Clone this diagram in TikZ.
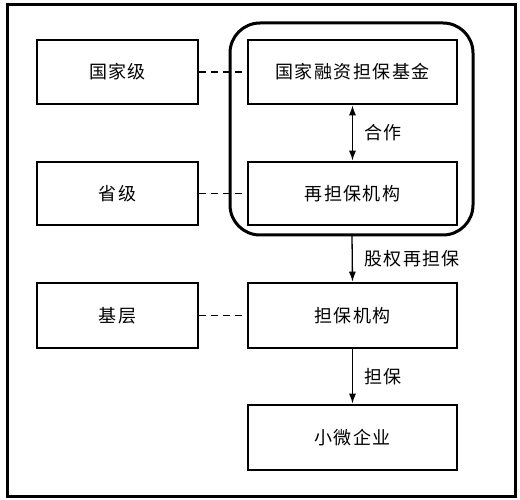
\documentclass[tikz,border=0pt]{standalone}
\usepackage{fontspec}
\newfontfamily\cjk[LetterSpace=8]{Noto Sans CJK SC}
\usetikzlibrary{arrows.meta}
\begin{document}
\begin{tikzpicture}[x=1pt,y=-1pt,
  box/.style={draw, line width=2.6pt, rectangle, inner sep=0pt},
  lbl/.style={font=\cjk\fontsize{18}{20}\selectfont},
  dashline/.style={dashed, line width=1.8pt, dash pattern=on 7pt off 5pt},
  arr/.style={line width=1.3pt, -{Latex[length=10pt,width=7pt]}},
  darr/.style={line width=1.3pt, {Latex[length=10pt,width=7pt]}-{Latex[length=10pt,width=7pt]}}]
\useasboundingbox (0,0) rectangle (520,500);
\draw[line width=3pt] (7,5) rectangle (515,496);
% rounded group
\draw[line width=3pt, rounded corners=30pt] (230,23) rectangle (473,235);
\coordinate (gbot) at (352,235);
% left boxes
\node[box, minimum width=161pt, minimum height=64pt, lbl] (l1) at (117.5,72) {国家级};
\node[box, minimum width=161pt, minimum height=63pt, lbl] (l2) at (117.5,193.5) {省级};
\node[box, minimum width=161pt, minimum height=65pt, lbl] (l3) at (117.5,315.5) {基层};
% right boxes
\node[box, minimum width=209pt, minimum height=64pt, lbl] (r1) at (352.5,72) {国家融资担保基金};
\node[box, minimum width=209pt, minimum height=63pt, lbl] (r2) at (352.5,193.5) {再担保机构};
\node[box, minimum width=209pt, minimum height=65pt, lbl] (r3) at (352.5,315.5) {担保机构};
\node[box, minimum width=209pt, minimum height=65pt, lbl] (r4) at (352.5,437.5) {小微企业};
% dashed links
\draw[dashline] (l1.east) -- (r1.west);
\draw[dashline] (l2.east) -- (r2.west);
\draw[dashline] (l3.east) -- (r3.west);
% arrows
\draw[darr] (r1.south) -- (r2.north) node[midway, right=8pt, lbl] {合作};
\draw[arr] (gbot) -- (r3.north) node[midway, right=8pt, lbl, anchor=west] {股权再担保};
\draw[arr] (r3.south) -- (r4.north) node[midway, right=8pt, lbl] {担保};
\end{tikzpicture}
\end{document}
